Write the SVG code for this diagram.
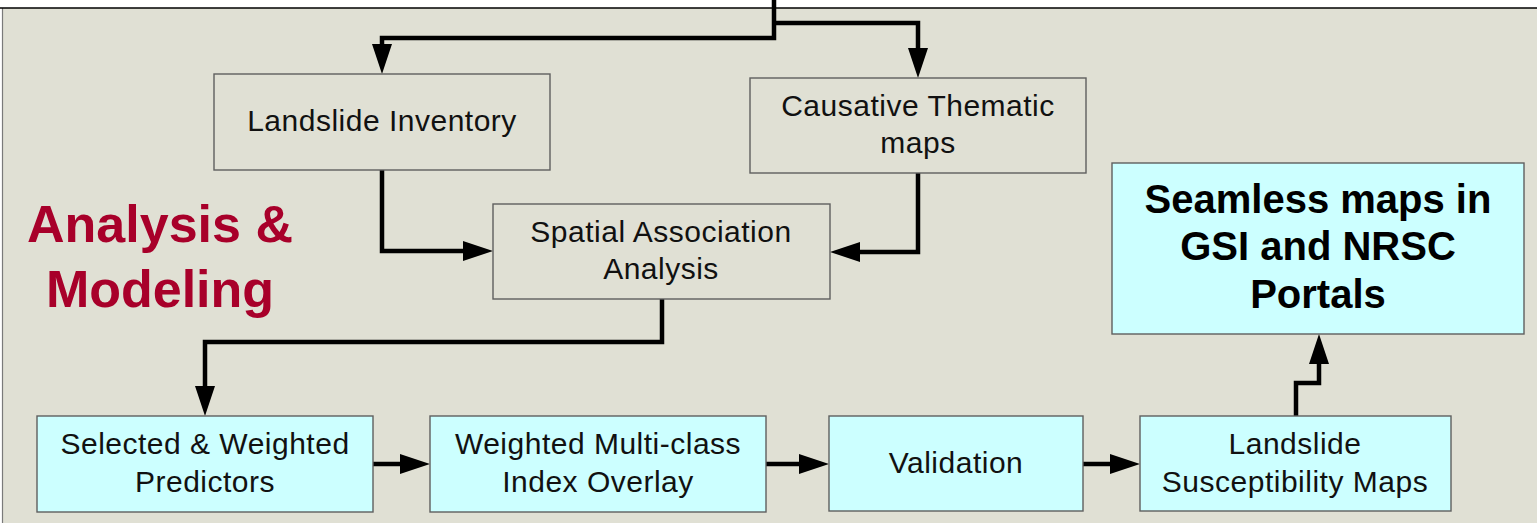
<svg xmlns="http://www.w3.org/2000/svg" width="1537" height="523" viewBox="0 0 1537 523">
  <style>
    .box { stroke: #5f5f5f; stroke-width: 1.4; }
    .beige { fill: #E0E0D4; }
    .cyan { fill: #CCFFFF; }
    .lbl { font-family: "Liberation Sans", Arial, sans-serif; font-size: 30px; fill: #111; text-anchor: middle; letter-spacing: 0.5px; }
    .big { font-family: "Liberation Sans", Arial, sans-serif; font-size: 40px; font-weight: bold; fill: #000; text-anchor: middle; }
    .title { font-family: "Liberation Sans", Arial, sans-serif; font-size: 52px; font-weight: bold; fill: #A8002A; text-anchor: middle; }
    .conn { fill: none; stroke: #000; stroke-width: 4.5; stroke-linejoin: miter; marker-end: url(#arrow); }
  </style>
  <defs>
    <marker id="arrow" viewBox="0 -10 30 20" refX="0" refY="0" markerWidth="30" markerHeight="20" markerUnits="userSpaceOnUse" orient="auto">
      <path d="M0,-10 L30,0 L0,10 z" fill="#000"/>
    </marker>
  </defs>
  <rect x="0" y="0" width="1537" height="523" fill="#ffffff"/>
  <rect x="2" y="8" width="1540" height="520" fill="#E0E0D4"/>
  <line x1="2.5" y1="8" x2="2.5" y2="523" stroke="#7a7a7a" stroke-width="1.2"/>
  <line x1="0" y1="8" x2="1537" y2="8" stroke="#000" stroke-width="1.6"/>

  <g id="title">
    <text class="title" x="160" y="242">Analysis &amp;</text>
    <text class="title" x="160" y="307">Modeling</text>
  </g>

  <g id="connectors">
    <path class="conn" d="M774,0 V38 H382 V44"/>
    <path class="conn" d="M774,23 H918 V48"/>
    <path class="conn" d="M382,170 V251 H463"/>
    <path class="conn" d="M918,173 V252 H860"/>
    <path class="conn" d="M662,299 V342 H205 V386"/>
    <path class="conn" d="M373,464 H400"/>
    <path class="conn" d="M766,464 H799"/>
    <path class="conn" d="M1083,464 H1110"/>
    <path class="conn" d="M1296,416 V383 H1319 V364"/>
  </g>

  <g id="landslide-inventory">
    <rect class="box beige" x="214" y="74" width="336" height="96"/>
    <text class="lbl" x="382" y="131">Landslide Inventory</text>
  </g>
  <g id="causative-thematic-maps">
    <rect class="box beige" x="750" y="78" width="336" height="95"/>
    <text class="lbl" x="918" y="116">Causative Thematic</text>
    <text class="lbl" x="918" y="153">maps</text>
  </g>
  <g id="spatial-association-analysis">
    <rect class="box beige" x="493" y="204" width="337" height="95"/>
    <text class="lbl" x="661" y="242">Spatial Association</text>
    <text class="lbl" x="661" y="279">Analysis</text>
  </g>
  <g id="seamless-maps">
    <rect class="box cyan" x="1112" y="163" width="412" height="171"/>
    <text class="big" x="1318" y="213">Seamless maps in</text>
    <text class="big" x="1318" y="260">GSI and NRSC</text>
    <text class="big" x="1318" y="308">Portals</text>
  </g>
  <g id="selected-weighted-predictors">
    <rect class="box cyan" x="37" y="416" width="336" height="96"/>
    <text class="lbl" x="205" y="454">Selected &amp; Weighted</text>
    <text class="lbl" x="205" y="492">Predictors</text>
  </g>
  <g id="weighted-multiclass-overlay">
    <rect class="box cyan" x="430" y="416" width="336" height="96"/>
    <text class="lbl" x="598" y="454">Weighted Multi-class</text>
    <text class="lbl" x="598" y="492">Index Overlay</text>
  </g>
  <g id="validation">
    <rect class="box cyan" x="829" y="416" width="254" height="95"/>
    <text class="lbl" x="956" y="473">Validation</text>
  </g>
  <g id="landslide-susceptibility-maps">
    <rect class="box cyan" x="1140" y="416" width="311" height="95"/>
    <text class="lbl" x="1295" y="454">Landslide</text>
    <text class="lbl" x="1295" y="492">Susceptibility Maps</text>
  </g>
</svg>
